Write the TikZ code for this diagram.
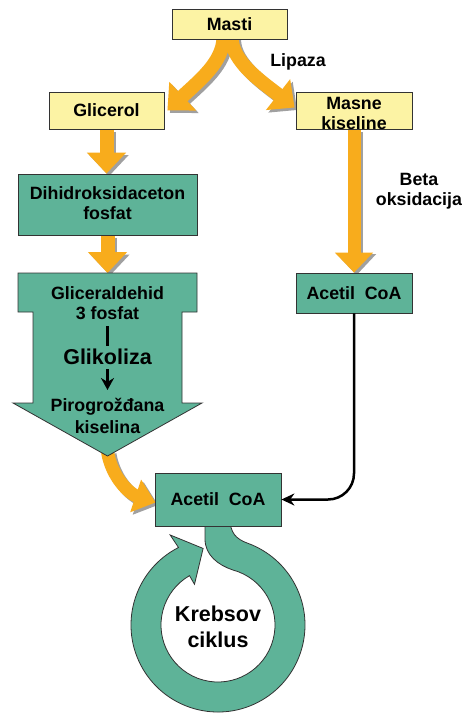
\documentclass[tikz,border=0pt]{standalone}
\usepackage{fontspec}
\setmainfont{Liberation Sans}
\usetikzlibrary{arrows.meta,calc,backgrounds}
\definecolor{tealc}{HTML}{5EB398}
\definecolor{yel}{HTML}{FCF3A4}
\definecolor{orng}{HTML}{F8AC1C}
\definecolor{bord}{HTML}{333333}
\definecolor{shad}{HTML}{A0A0A0}
\begin{document}
\begin{tikzpicture}[x=1pt,y=-1pt,
  ybox/.style={draw=bord,line width=0.8pt,fill=yel,inner sep=0pt},
  tbox/.style={draw=bord,line width=0.8pt,fill=tealc,inner sep=0pt},
  txt/.style={font=\bfseries\fontsize{17.8}{20}\selectfont,align=center,inner sep=0pt},
  bigtxt/.style={font=\bfseries\fontsize{21.5}{26}\selectfont,align=center,inner sep=0pt},
  oarrow/.style={draw=orng,line width=14pt,-{Triangle[length=21pt,width=38pt]}},
  carrow/.style={draw=orng,line width=13pt,-{Triangle[length=21pt,width=33pt]}},
  shadow/.style={draw=shad,color=shad,transform canvas={xshift=2.5pt,yshift=-2.5pt}},
]
\useasboundingbox (0,0) rectangle (462,713);

% boxes
\node[ybox,minimum width=115pt,minimum height=30pt] (masti) at (229.5,24) {};
\node[txt] (tmasti) at (masti.center) {Masti};
\node[ybox,minimum width=115pt,minimum height=37pt] (glic) at (106.5,110.5) {};
\node[txt] (tglic) at (glic.center) {Glicerol};
\node[ybox,minimum width=116pt,minimum height=37pt] (mk) at (354,110.5) {};
\node[txt] (tmk) at (354,113.5) {Masne\\kiseline};
\node[tbox,minimum width=179pt,minimum height=61pt] (dhap) at (107.5,204.5) {};
\node[txt] (tdhap) at (107.5,203) {Dihidroksidaceton\\fosfat};
\node[tbox,minimum width=116pt,minimum height=40pt] (acoa1) at (354,293) {};
\node[txt] (tacoa1) at (acoa1.center) {Acetil\ \ CoA};
\node[tbox,minimum width=126pt,minimum height=53pt] (acoa2) at (218,499.5) {};
\node[txt] (tacoa2) at (acoa2.center) {Acetil\ \ CoA};

% labels
\node[txt] (lip) at (298,62) {Lipaza};
\node[txt] (beta) at (419,191.5) {Beta\\oksidacija};

% glycolysis big arrow shape
\coordinate (gtop) at (107.5,273);
\coordinate (gtip) at (107.5,452);
\draw[bord,line width=0.8pt,fill=tealc]
  (18,273) -- (197,273) -- (197,312) -- (182,312) -- (182,403) -- (202,403)
  -- (107.5,456) -- (13,403) -- (33,403) -- (33,312) -- (18,312) -- cycle;
\node[txt] (tgap) at (107.5,303) {Gliceraldehid\\3 fosfat};
\coordinate (l1) at (107.5,326);
\coordinate (l2) at (107.5,346);
\draw[line width=2.6pt] (l1) -- (l2);
\node[bigtxt] (glik) at (107.5,357) {Glikoliza};
\coordinate (a1) at (107.5,369);
\coordinate (a2) at (107.5,390);
\draw[line width=2.6pt,-{Stealth[length=12pt,width=13pt]}] (a1) -- (a2);
\node[txt,font=\bfseries\fontsize{17.8}{22}\selectfont] (tpir) at (107.5,416) {Pirogrožđana\\kiselina};

% Krebs text
\node[bigtxt] (krebs) at (218,627) {Krebsov\\ciklus};

\begin{pgfonlayer}{background}
  \fill[white] (0,0) rectangle (462,713);
  % shadows
  \draw[oarrow,shadow] ([xshift=-6pt,yshift=2pt]masti.south) .. controls (223,62) and (200,80) .. ([xshift=3pt]glic.east);
  \draw[oarrow,shadow] ([xshift=2pt,yshift=2pt]masti.south) .. controls (232,62) and (262,82) .. ([xshift=-1pt,yshift=3pt]mk.west);
  \draw[oarrow,shadow] (glic.south) -- (glic.south |- dhap.north);
  \draw[oarrow,shadow] (dhap.south) -- (gtop);
  \draw[oarrow,shadow,line width=13pt] (mk.south) -- (acoa1.north);
  \draw[carrow,shadow] (gtip) .. controls (112,478) and (130,494) .. ([xshift=1pt,yshift=-3pt]acoa2.west);
  % orange arrows
  \draw[oarrow] ([xshift=-6pt,yshift=2pt]masti.south) .. controls (223,62) and (200,80) .. ([xshift=3pt]glic.east);
  \draw[oarrow] ([xshift=2pt,yshift=2pt]masti.south) .. controls (232,62) and (262,82) .. ([xshift=-1pt,yshift=3pt]mk.west);
  \draw[oarrow] (glic.south) -- (glic.south |- dhap.north);
  \draw[oarrow] (dhap.south) -- (gtop);
  \draw[oarrow,line width=13pt,-{Triangle[length=20pt,width=37pt]}] (mk.south) -- (acoa1.north);
  \draw[carrow] (gtip) .. controls (112,478) and (130,494) .. ([xshift=1pt,yshift=-3pt]acoa2.west);
  % Krebs ring
  \begin{scope}[shift={(218,625)}]
    \draw[bord,line width=0.8pt,fill=tealc]
      (-13,-107) -- (-13,-86) .. controls (-13,-70) and (0,-60) .. (-75:57)
      arc[start angle=-75,end angle=240,radius=57]
      -- (240:47) -- (259:78) -- (242:102) -- (243:87)
      arc[start angle=243,end angle=-70,radius=87]
      .. controls (18,-86) and (12,-92) .. (12,-107) -- cycle;
  \end{scope}
\end{pgfonlayer}

% black connector
\draw[line width=2.5pt,rounded corners=26pt,-{Stealth[length=13pt,width=12pt]}] (acoa1.south) |- (acoa2.east);
\end{tikzpicture}
\end{document}
